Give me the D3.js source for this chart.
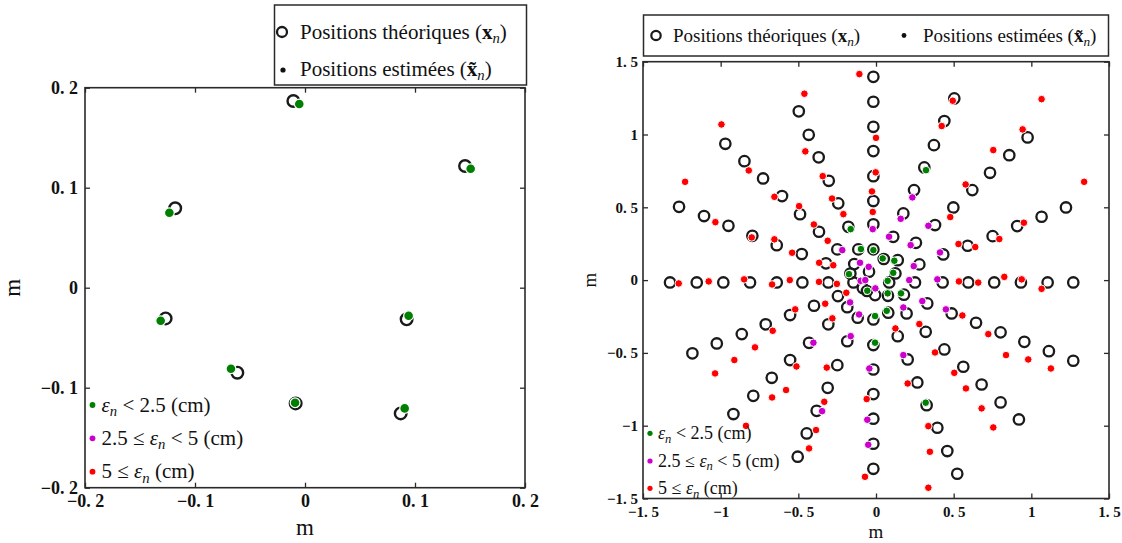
<!DOCTYPE html>
<html><head><meta charset="utf-8">
<script src="https://cdn.jsdelivr.net/npm/d3@7"></script>
<style>
body{margin:0;background:#fff}
svg{display:block}
text{font-family:"Liberation Serif","Times New Roman",serif}
</style>
</head><body>
<svg id="chart" width="1122" height="543"></svg>
<script>
// ---------------- DATA ----------------
const leftTicks = [-0.2, -0.1, 0, 0.1, 0.2];
const rightTicks = [-1.5, -1, -0.5, 0, 0.5, 1, 1.5];

// Left panel: theoretical positions (circles) and estimated positions (dots)
const leftTheoretical = [
  [-0.0106, 0.1867], [0.1455, 0.1217], [-0.118, 0.0794], [-0.1267, -0.0307],
  [0.0924, -0.0316], [-0.0615, -0.085], [-0.0085, -0.1157], [0.087, -0.1257]
];
const leftGreen = [
  [-0.0052, 0.1837], [0.1506, 0.119], [-0.1233, 0.075], [-0.1312, -0.033],
  [0.0942, -0.028], [-0.0673, -0.081], [-0.009, -0.115], [0.0906, -0.1207]
];
const leftPurple = [];
const leftRed = [];

// Right panel: theoretical positions
const rightTheoretical = [
  // row left
  [-1.326,-0.016],[-1.154,-0.016],[-0.983,-0.016],[-0.811,-0.016],[-0.639,-0.016],[-0.474,-0.016],[-0.307,-0.016],[-0.145,-0.016],
  // row right
  [0.085,-0.016],[0.251,-0.016],[0.429,-0.016],[0.594,-0.016],[0.761,-0.016],[0.933,-0.016],[1.105,-0.016],[1.270,-0.016],
  // column up
  [-0.045,0.058],[-0.017,0.211],[-0.017,0.383],[-0.017,0.543],[-0.017,0.714],[-0.017,0.886],[-0.017,1.053],[-0.017,1.225],[-0.017,1.396],
  // column down
  [-0.006,-0.103],[-0.017,-0.270],[-0.017,-0.446],[-0.017,-0.614],[-0.017,-0.783],[-0.017,-0.952],[-0.017,-1.124],[-0.017,-1.296],
  // upper-left shallow
  [-1.268,0.503],[-1.107,0.440],[-0.950,0.373],[-0.796,0.304],[-0.639,0.240],[-0.478,0.179],[-0.322,0.115],[-0.165,0.045],
  // upper-left diagonal
  [-0.970,0.936],[-0.847,0.817],[-0.727,0.698],[-0.605,0.577],[-0.489,0.453],[-0.367,0.332],[-0.249,0.211],[-0.140,0.110],
  // upper-left steep
  [-0.497,1.159],[-0.433,0.998],[-0.369,0.843],[-0.304,0.682],[-0.243,0.527],[-0.178,0.366],[-0.114,0.211],
  // upper-right steep
  [0.504,1.248],[0.440,1.092],[0.373,0.927],[0.311,0.774],[0.245,0.618],[0.176,0.458],[0.111,0.297],[0.050,0.145],
  // upper-right diagonal
  [0.976,0.980],[0.858,0.858],[0.734,0.737],[0.620,0.618],[0.498,0.499],[0.380,0.378],[0.257,0.256],[0.140,0.137],
  // upper-right shallow
  [1.223,0.499],[1.066,0.435],[0.909,0.371],[0.751,0.302],[0.590,0.236],[0.433,0.176],[0.279,0.108],[0.125,0.046],
  // lower-left shallow
  [-1.182,-0.503],[-1.025,-0.435],[-0.864,-0.371],[-0.710,-0.304],[-0.553,-0.240],[-0.399,-0.176],[-0.245,-0.110],[-0.085,-0.055],
  // lower-left diagonal
  [-0.918,-0.920],[-0.790,-0.795],[-0.671,-0.671],[-0.553,-0.549],[-0.431,-0.431],[-0.307,-0.304],[-0.185,-0.186],[-0.058,-0.075],
  // lower-left steep
  [-0.504,-1.213],[-0.446,-1.053],[-0.382,-0.898],[-0.311,-0.740],[-0.249,-0.584],[-0.185,-0.420],[-0.118,-0.258],
  // lower-right shallow
  [1.270,-0.554],[1.113,-0.488],[0.955,-0.424],[0.802,-0.359],[0.644,-0.293],[0.487,-0.229],[0.330,-0.160],[0.180,-0.100],
  // lower-right diagonal
  [0.920,-0.957],[0.802,-0.840],[0.680,-0.717],[0.562,-0.595],[0.440,-0.476],[0.320,-0.355],[0.197,-0.229],[0.077,-0.108],
  // lower-right steep
  [0.523,-1.330],[0.459,-1.174],[0.395,-1.014],[0.326,-0.859],[0.266,-0.703],[0.204,-0.545],[0.140,-0.385],[0.079,-0.224]
];

// Right panel: estimated positions by error class
const rightGreen = [
  [-0.163,0.350],[0.322,0.755],[-0.097,0.213],[-0.017,0.206],[0.043,0.149],[0.118,0.133],
  [0.111,0.050],[-0.174,0.041],[0.075,-0.005],[-0.056,-0.073],[0.075,-0.091],[0.161,-0.091],
  [0.069,-0.211],[-0.006,-0.247],[-0.006,-0.430],[0.320,-0.842]
];
const rightPurple = [
  [0.234,0.568],[0.159,0.421],[-0.021,0.350],[0.337,0.373],[0.084,0.298],[0.223,0.240],
  [-0.217,0.206],[0.412,0.190],[-0.103,0.119],[-0.047,0.091],[0.243,0.096],[-0.099,-0.005],
  [-0.069,0.000],[0.214,0.000],[0.395,0.005],[-0.004,-0.057],[-0.167,-0.153],[0.298,-0.144],
  [0.450,-0.201],[0.176,-0.188],[-0.109,-0.236],[-0.163,-0.385],[-0.403,-0.430],[0.176,-0.515],
  [-0.043,-0.607],[-0.347,-0.900],[-0.056,-0.959],[-0.050,-1.131]
];
const rightRed = [
  [-0.107,1.415],[-0.461,1.280],[-0.995,1.069],[-0.455,0.884],[-0.819,0.753],[-1.229,0.675],
  [-0.343,0.714],[-0.654,0.572],[-0.283,0.560],[-0.495,0.508],[-0.210,0.453],[-0.400,0.382],
  [-1.034,0.398],[-0.800,0.293],[-0.654,0.280],[-0.311,0.270],[-0.540,0.188],[-0.366,0.119],
  [-0.275,0.102],
  [-1.270,-0.023],[-1.077,-0.009],[-0.849,0.005],[-0.669,-0.030],[-0.555,0.000],[-0.367,-0.012],[-0.252,-0.026],
  [0.000,0.977],[-0.002,0.740],[-0.026,0.609],[-0.021,0.468],
  [0.494,1.232],[1.066,1.243],[0.423,1.058],[0.944,1.035],[0.755,0.893],[1.340,0.675],
  [0.577,0.657],[0.478,0.433],[0.952,0.394],[0.531,0.248],[0.794,0.282],[0.639,0.227],
  [0.534,-0.009],[0.658,-0.017],[0.826,0.022],[0.938,0.005],[1.066,-0.060],
  [-1.036,-0.641],[-0.912,-0.549],[-0.779,-0.462],[-0.665,-0.348],[-0.520,-0.201],[-0.327,-0.162],[-0.191,-0.087],
  [-0.837,-1.001],[-0.669,-0.806],[-0.579,-0.755],[-0.512,-0.593],[-0.281,-0.263],
  [-0.431,-1.156],[-0.386,-1.030],[-0.333,-0.836],[-0.317,-0.601],
  [-0.060,-0.817],[-0.071,-1.351],
  [0.556,-0.243],[0.723,-0.371],[0.837,-0.515],[0.980,-0.545],[1.126,-0.607],
  [0.279,-0.302],[0.125,-0.332],[0.380,-0.497],[0.504,-0.637],[0.579,-0.744],[0.204,-0.710],
  [0.680,-0.881],[0.755,-1.012],[0.337,-1.003],[0.347,-1.179],[0.337,-1.426]
];

// ---------------- DRAWING ----------------
const COLORS = {green:"#008000", purple:"#cc00cc", red:"#ff0000", ring:"#1a1a1a", axis:"#2a2a2a"};
const svg = d3.select("#chart");

function fmtTick(d){
  if (d === 0) return "0";
  const s = String(Math.abs(d)).replace(".", ". ");
  return (d < 0 ? "\u2212" : "") + s;
}

function addEpsLabel(g, x, y, fs, before, after){
  const t = g.append("text").attr("x", x).attr("y", y).attr("font-size", fs).attr("fill", "#111");
  if (before) t.append("tspan").text(before);
  t.append("tspan").attr("font-style", "italic").text("\u03b5");
  t.append("tspan").attr("font-style", "italic").attr("font-size", fs*0.7).attr("dy", fs*0.22).text("n");
  t.append("tspan").attr("dy", -fs*0.22).text(after);
}

function panel(cfg){
  const g = svg.append("g");
  const x = d3.scaleLinear().domain(cfg.domain).range([cfg.x0, cfg.x1]);
  const y = d3.scaleLinear().domain(cfg.domain).range([cfg.y1, cfg.y0]);

  const ax = (gen, tr, labels, pad) => {
    const a = gen.tickValues(cfg.ticks).tickSizeInner(-cfg.tick).tickSizeOuter(0)
      .tickPadding(pad).tickFormat(labels ? fmtTick : () => "");
    const s = g.append("g").attr("transform", tr).call(a);
    s.select(".domain").remove();
    s.selectAll("line").attr("stroke", COLORS.axis).attr("stroke-width", 1.3);
    s.selectAll("text").attr("font-family", '"Liberation Serif","Times New Roman",serif')
      .attr("font-weight", "bold").attr("font-size", cfg.fs).attr("fill", "#111");
  };
  ax(d3.axisBottom(x), `translate(0,${cfg.y1})`, true, cfg.padX);
  ax(d3.axisTop(x), `translate(0,${cfg.y0})`, false, 3);
  ax(d3.axisLeft(y), `translate(${cfg.x0},0)`, true, cfg.padY);
  ax(d3.axisRight(y), `translate(${cfg.x1},0)`, false, 3);

  g.append("rect").attr("x", cfg.x0).attr("y", cfg.y0)
    .attr("width", cfg.x1 - cfg.x0).attr("height", cfg.y1 - cfg.y0)
    .attr("fill", "none").attr("stroke", COLORS.axis).attr("stroke-width", 1.6);

  // axis titles
  g.append("text").attr("x", (cfg.x0 + cfg.x1)/2).attr("y", cfg.xTitleY)
    .attr("text-anchor", "middle").attr("font-size", cfg.titleFs).attr("fill", "#111").text("m");
  g.append("text").attr("transform", `translate(${cfg.yTitleX},${(cfg.y0 + cfg.y1)/2}) rotate(-90)`)
    .attr("text-anchor", "middle").attr("font-size", cfg.titleFs).attr("fill", "#111").text("m");

  // theoretical circles
  g.append("g").selectAll("circle").data(cfg.theo).join("circle")
    .attr("cx", d => x(d[0])).attr("cy", d => y(d[1])).attr("r", cfg.ringR)
    .attr("fill", "none").attr("stroke", COLORS.ring).attr("stroke-width", cfg.ringW);

  // estimated dots
  const dots = [["red", cfg.red], ["purple", cfg.purple], ["green", cfg.green]];
  dots.forEach(([c, arr]) => {
    g.append("g").selectAll("circle").data(arr).join("circle")
      .attr("cx", d => x(d[0])).attr("cy", d => y(d[1])).attr("r", cfg.dotR)
      .attr("fill", COLORS[c]).attr("stroke", "#fff").attr("stroke-width", cfg.dotW);
  });

  // error-class legend (bottom-left, inside)
  const lg = g.append("g");
  const classes = [
    ["green", "", " < 2.5 (cm)"],
    ["purple", "2.5 \u2264 ", " < 5 (cm)"],
    ["red", "5 \u2264 ", " (cm)"]
  ];
  classes.forEach((c, i) => {
    const cy = cfg.errY[i];
    lg.append("circle").attr("cx", cfg.errX).attr("cy", cy).attr("r", cfg.errR).attr("fill", COLORS[c[0]]);
    addEpsLabel(lg, cfg.errX + cfg.errGap, cy + cfg.errBase, cfg.errFs, c[1], c[2]);
  });
  return {x, y};
}

function legendLabel(sel, x, y, fs, estimated){
  const t = sel.append("text").attr("x", x).attr("y", y).attr("font-size", fs).attr("fill", "#111");
  t.append("tspan").text(estimated ? "Positions estimées (" : "Positions théoriques (");
  t.append("tspan").attr("font-weight", "bold").text(estimated ? "x\u0303" : "x");
  t.append("tspan").attr("font-style", "italic").attr("font-size", fs*0.7).attr("dy", fs*0.2).text("n");
  t.append("tspan").attr("dy", -fs*0.2).text(")");
}

// Left panel
panel({
  domain: [-0.2, 0.2], ticks: leftTicks,
  x0: 85, x1: 525, y0: 87.7, y1: 487.7,
  tick: 5, fs: 18, padX: 7, padY: 7,
  titleFs: 23, xTitleY: 535, yTitleX: 20,
  theo: leftTheoretical, green: leftGreen, purple: leftPurple, red: leftRed,
  ringR: 5.8, ringW: 2.4, dotR: 4.9, dotW: 1.2,
  errX: 92.5, errY: [405, 438.3, 471.7], errR: 2.9, errGap: 9, errBase: 6.5, errFs: 21
});

// Left top legend
const l1 = svg.append("g");
l1.append("rect").attr("x", 274.5).attr("y", 5).attr("width", 252).attr("height", 80)
  .attr("fill", "#fff").attr("stroke", COLORS.axis).attr("stroke-width", 1.5);
l1.append("circle").attr("cx", 282).attr("cy", 32).attr("r", 5).attr("fill", "none")
  .attr("stroke", COLORS.ring).attr("stroke-width", 2.3);
l1.append("circle").attr("cx", 283).attr("cy", 70).attr("r", 2.6).attr("fill", "#111");
legendLabel(l1, 300, 39, 21, false);
legendLabel(l1, 300, 76, 21, true);

// Right panel
panel({
  domain: [-1.5, 1.5], ticks: rightTicks,
  x0: 643, x1: 1109, y0: 61.7, y1: 498.5,
  tick: 5, fs: 15, padX: 8, padY: 5,
  titleFs: 19, xTitleY: 538, yTitleX: 596,
  theo: rightTheoretical, green: rightGreen, purple: rightPurple, red: rightRed,
  ringR: 5.2, ringW: 2.3, dotR: 3.8, dotW: 1,
  errX: 650, errY: [433.3, 461, 488.3], errR: 2.6, errGap: 8, errBase: 5.5, errFs: 18
});

// Right top legend
const l2 = svg.append("g");
l2.append("rect").attr("x", 643.5).attr("y", 15).attr("width", 465).attr("height", 41)
  .attr("fill", "#fff").attr("stroke", COLORS.axis).attr("stroke-width", 1.5);
l2.append("circle").attr("cx", 656).attr("cy", 35.5).attr("r", 4.7).attr("fill", "none")
  .attr("stroke", COLORS.ring).attr("stroke-width", 2.2);
l2.append("circle").attr("cx", 904).attr("cy", 35.5).attr("r", 2.4).attr("fill", "#111");
legendLabel(l2, 673, 42, 19, false);
legendLabel(l2, 923, 42, 19, true);
</script>
</body></html>
